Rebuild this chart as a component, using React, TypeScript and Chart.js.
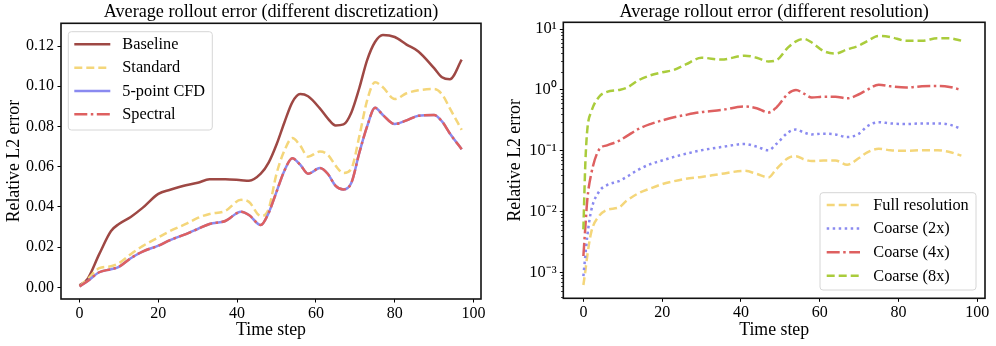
import React, { useEffect, useRef } from 'react';
import { Chart, registerables } from 'chart.js';

Chart.register(...registerables);

const FONT = '"Liberation Serif", "Times New Roman", Times, serif';

// ---------- Left chart: different discretization ----------
const stepsLeft = [0, 2, 5, 8, 10, 13, 16, 20, 23, 27, 30, 33, 37, 41, 43, 46, 48, 50, 52, 54, 56, 58, 61, 63, 65, 67, 69, 71, 73, 75, 77, 80, 83, 86, 90, 92, 94, 97];
const baseline = [0.001, 0.004, 0.0165, 0.028, 0.0315, 0.035, 0.0395, 0.0465, 0.0485, 0.0508, 0.052, 0.0537, 0.0538, 0.0533, 0.053, 0.0565, 0.062, 0.071, 0.082, 0.092, 0.0961, 0.095, 0.089, 0.084, 0.0805, 0.081, 0.087, 0.099, 0.113, 0.122, 0.1255, 0.1245, 0.1207, 0.1173, 0.109, 0.1045, 0.1035, 0.1132];
const standard = [0.0005, 0.004, 0.0095, 0.0105, 0.012, 0.0165, 0.0205, 0.0248, 0.028, 0.0315, 0.0345, 0.0365, 0.038, 0.0435, 0.0425, 0.0355, 0.039, 0.0565, 0.068, 0.0742, 0.0705, 0.065, 0.0675, 0.066, 0.0605, 0.0568, 0.059, 0.075, 0.093, 0.102, 0.0995, 0.0936, 0.0965, 0.098, 0.0986, 0.096, 0.089, 0.0783];
const cfd5 = [0.0005, 0.003, 0.0075, 0.009, 0.0102, 0.0145, 0.0178, 0.0207, 0.0235, 0.0265, 0.029, 0.0315, 0.033, 0.0376, 0.036, 0.031, 0.037, 0.0475, 0.058, 0.0642, 0.061, 0.0565, 0.0593, 0.0565, 0.0505, 0.0487, 0.052, 0.0668, 0.08, 0.0893, 0.0857, 0.0812, 0.083, 0.0853, 0.0857, 0.0825, 0.0765, 0.0687];
const spectral = [0.0005, 0.003, 0.0075, 0.009, 0.0102, 0.0145, 0.0178, 0.0207, 0.0235, 0.0265, 0.029, 0.0315, 0.033, 0.0376, 0.036, 0.031, 0.037, 0.0475, 0.058, 0.0642, 0.061, 0.0565, 0.0593, 0.0565, 0.0505, 0.0487, 0.052, 0.0668, 0.08, 0.0893, 0.0857, 0.0812, 0.083, 0.0853, 0.0857, 0.0825, 0.0765, 0.0687];
const leftNames = ['Baseline', 'Standard', '5-point CFD', 'Spectral'];
const leftYTicks = [0, 0.02, 0.04, 0.06, 0.08, 0.1, 0.12];
const xTicks = [0, 20, 40, 60, 80, 100];

// ---------- Right chart: different resolution ----------
const stepsRight = [0, 0.5, 1, 2, 4, 6, 9, 11, 14, 17, 20, 23, 26, 30, 35, 41, 44, 47, 49, 52, 54, 56, 58, 61, 64, 67, 70, 72, 75, 78, 82, 86, 90, 93, 96];
const fullRes = [0.00062, 0.00105, 0.0019, 0.0046, 0.0085, 0.0107, 0.0117, 0.0151, 0.02, 0.024, 0.0282, 0.0316, 0.0347, 0.0372, 0.0417, 0.0468, 0.0417, 0.0365, 0.05, 0.0759, 0.0813, 0.0724, 0.0676, 0.0692, 0.0692, 0.0589, 0.0759, 0.0933, 0.108, 0.102, 0.1, 0.102, 0.102, 0.0955, 0.0832];
const coarse2 = [0.00087, 0.0019, 0.004, 0.0105, 0.0214, 0.0272, 0.0316, 0.0372, 0.049, 0.0603, 0.0692, 0.0794, 0.0891, 0.102, 0.115, 0.129, 0.117, 0.102, 0.129, 0.2, 0.224, 0.2, 0.186, 0.191, 0.186, 0.168, 0.191, 0.251, 0.295, 0.282, 0.275, 0.282, 0.282, 0.269, 0.229];
const coarse4 = [0.00186, 0.0056, 0.0158, 0.042, 0.105, 0.123, 0.145, 0.174, 0.229, 0.275, 0.316, 0.355, 0.389, 0.432, 0.468, 0.537, 0.501, 0.427, 0.513, 0.871, 1.0, 0.871, 0.75, 0.776, 0.776, 0.728, 0.851, 1.0, 1.216, 1.148, 1.096, 1.148, 1.161, 1.122, 1.0];
const coarse8 = [0.0051, 0.063, 0.224, 0.437, 0.776, 0.933, 1.0, 1.084, 1.445, 1.738, 1.95, 2.14, 2.63, 3.39, 3.16, 3.67, 3.39, 2.95, 3.09, 5.01, 6.31, 6.92, 6.03, 4.37, 3.98, 4.64, 5.37, 6.31, 7.76, 7.41, 6.46, 6.46, 7.08, 7.08, 6.46];
const rightNames = ['Full resolution', 'Coarse (2x)', 'Coarse (4x)', 'Coarse (8x)'];
const rightYTicks = [0.001, 0.01, 0.1, 1, 10];
const rightYTickLabels = ['10⁻³', '10⁻²', '10⁻¹', '10⁰', '10¹'];

const leftTitle = 'Average rollout error (different discretization)';
const rightTitle = 'Average rollout error (different resolution)';
const xLabel = 'Time step';
const yLabel = 'Relative L2 error';

const C_BASE = 'rgb(158,72,68)';
const C_YEL = 'rgb(244,214,122)';
const C_BLUE = 'rgb(138,138,240)';
const C_RED = 'rgb(222,96,96)';
const C_GREEN = 'rgb(170,204,60)';

const DASH = [8, 4];
const DOT = [2.5, 3.5];
const DASHDOT = [13, 3.5, 2.5, 3.5];

function pts(xs: number[], ys: number[]) {
  return xs.map((x, i) => ({ x, y: ys[i] }));
}

function ds(label: string, xs: number[], ys: number[], color: string, dash: number[], order: number) {
  return {
    label,
    data: pts(xs, ys),
    borderColor: color,
    backgroundColor: color,
    borderWidth: 2.5,
    borderDash: dash,
    pointRadius: 0,
    fill: false,
    cubicInterpolationMode: 'monotone' as const,
    order,
  };
}

type LegendCfg = { corner: 'tl' | 'br'; dx: number; dy: number; w: number; h: number; first: number; gap: number; l0: number; l1: number; tx: number };

function decor(title: string, legend: LegendCfg, minor: boolean) {
  return {
    id: 'decor',
    afterDatasetsDraw(chart: any) {
      const { ctx, chartArea: a } = chart;
      ctx.save();
      // minor ticks for log axis
      if (minor) {
        const ys = chart.scales.y;
        ctx.strokeStyle = '#000';
        ctx.lineWidth = 0.8;
        ctx.setLineDash([]);
        for (let e = -5; e <= 2; e++) {
          for (let k = 2; k <= 9; k++) {
            const v = k * Math.pow(10, e);
            if (v < ys.min || v > ys.max) continue;
            const p = Math.round(ys.getPixelForValue(v)) + 0.5;
            ctx.beginPath();
            ctx.moveTo(a.left, p);
            ctx.lineTo(a.left - 2.2, p);
            ctx.stroke();
          }
        }
      }
      // frame
      ctx.strokeStyle = '#111';
      ctx.lineWidth = 1.6;
      ctx.setLineDash([]);
      ctx.strokeRect(a.left, a.top, a.right - a.left, a.bottom - a.top);
      // title
      ctx.fillStyle = '#000';
      ctx.font = `18.2px ${FONT}`;
      ctx.textAlign = 'center';
      ctx.textBaseline = 'middle';
      ctx.fillText(title, (a.left + a.right) / 2, 12.7);
      // legend
      const bx = legend.corner === 'tl' ? a.left + legend.dx : a.right - legend.dx - legend.w;
      const by = legend.corner === 'tl' ? a.top + legend.dy : a.bottom - legend.dy - legend.h;
      ctx.beginPath();
      const r = 3;
      ctx.moveTo(bx + r, by);
      ctx.lineTo(bx + legend.w - r, by);
      ctx.quadraticCurveTo(bx + legend.w, by, bx + legend.w, by + r);
      ctx.lineTo(bx + legend.w, by + legend.h - r);
      ctx.quadraticCurveTo(bx + legend.w, by + legend.h, bx + legend.w - r, by + legend.h);
      ctx.lineTo(bx + r, by + legend.h);
      ctx.quadraticCurveTo(bx, by + legend.h, bx, by + legend.h - r);
      ctx.lineTo(bx, by + r);
      ctx.quadraticCurveTo(bx, by, bx + r, by);
      ctx.closePath();
      ctx.fillStyle = 'rgba(255,255,255,0.85)';
      ctx.fill();
      ctx.strokeStyle = '#d6d6d6';
      ctx.lineWidth = 1;
      ctx.stroke();
      ctx.font = `16.3px ${FONT}`;
      ctx.textAlign = 'left';
      ctx.textBaseline = 'middle';
      chart.data.datasets.forEach((d: any, i: number) => {
        const y = by + legend.first + i * legend.gap;
        ctx.strokeStyle = d.borderColor;
        ctx.lineWidth = d.borderWidth;
        ctx.setLineDash(d.borderDash || []);
        ctx.beginPath();
        ctx.moveTo(bx + legend.l0, y);
        ctx.lineTo(bx + legend.l1, y);
        ctx.stroke();
        ctx.setLineDash([]);
        ctx.fillStyle = '#000';
        ctx.fillText(d.label, bx + legend.tx, y + 0.5);
      });
      ctx.restore();
    },
  };
}

const tickFont = { family: FONT, size: 16 };
const labelFont = { family: FONT, size: 17.8 };

function xScale(min: number, max: number, h: number) {
  return {
    type: 'linear' as const,
    min,
    max,
    afterBuildTicks: (s: any) => {
      s.ticks = xTicks.map((v) => ({ value: v }));
    },
    afterFit: (s: any) => {
      s.height = h;
    },
    ticks: { font: tickFont, color: '#000', padding: 1.5, maxRotation: 0, autoSkip: false, callback: (v: any) => String(v) },
    grid: { drawOnChartArea: false, drawTicks: true, tickLength: 3.5, tickColor: '#000', tickWidth: 1 },
    border: { display: false },
    title: { display: true, text: xLabel, font: labelFont, color: '#000', padding: { top: 0, bottom: 4.5 } },
  };
}

function LeftChart() {
  const ref = useRef<HTMLCanvasElement>(null);
  useEffect(() => {
    const chart = new Chart(ref.current!, {
      type: 'line',
      data: {
        datasets: [
          ds(leftNames[0], stepsLeft, baseline, C_BASE, [], 3),
          ds(leftNames[1], stepsLeft, standard, C_YEL, DASH, 2),
          ds(leftNames[2], stepsLeft, cfd5, C_BLUE, [], 1),
          ds(leftNames[3], stepsLeft, spectral, C_RED, DASHDOT, 0),
        ],
      },
      options: {
        responsive: false,
        animation: false,
        layout: { padding: { top: 23.3, right: 19, left: 0, bottom: 0 } },
        plugins: { legend: { display: false }, tooltip: { enabled: false }, title: { display: false } },
        scales: {
          x: xScale(-4.7, 101.9, 47),
          y: {
            type: 'linear',
            min: -0.0058,
            max: 0.1313,
            afterBuildTicks: (s: any) => {
              s.ticks = leftYTicks.map((v) => ({ value: v }));
            },
            afterFit: (s: any) => {
              s.width = 61;
            },
            ticks: { font: tickFont, color: '#000', padding: 3.5, autoSkip: false, callback: (v: any) => Number(v).toFixed(2) },
            grid: { drawOnChartArea: false, drawTicks: true, tickLength: 3.5, tickColor: '#000', tickWidth: 1 },
            border: { display: false },
            title: { display: true, text: yLabel, font: labelFont, color: '#000', padding: { top: 3.5, bottom: 0 } },
          },
        },
      },
      plugins: [decor(leftTitle, { corner: 'tl', dx: 7.3, dy: 8.4, w: 144, h: 98.3, first: 12.6, gap: 23.35, l0: 6, l1: 42, tx: 54 }, false)],
    } as any);
    return () => chart.destroy();
  }, []);
  return <canvas ref={ref} width={500} height={346} style={{ width: 500, height: 346, display: 'block' }} />;
}

function RightChart() {
  const ref = useRef<HTMLCanvasElement>(null);
  useEffect(() => {
    const chart = new Chart(ref.current!, {
      type: 'line',
      data: {
        datasets: [
          ds(rightNames[0], stepsRight, fullRes, C_YEL, DASH, 3),
          ds(rightNames[1], stepsRight, coarse2, C_BLUE, DOT, 2),
          ds(rightNames[2], stepsRight, coarse4, C_RED, DASHDOT, 1),
          ds(rightNames[3], stepsRight, coarse8, C_GREEN, DASH, 0),
        ],
      },
      options: {
        responsive: false,
        animation: false,
        layout: { padding: { top: 22.3, right: 11, left: 0, bottom: 0 } },
        plugins: { legend: { display: false }, tooltip: { enabled: false }, title: { display: false } },
        scales: {
          x: xScale(-5.1, 102, 47.7),
          y: {
            type: 'logarithmic',
            min: 0.000375,
            max: 12.97,
            afterBuildTicks: (s: any) => {
              s.ticks = rightYTicks.map((v) => ({ value: v }));
            },
            afterFit: (s: any) => {
              s.width = 63.3;
            },
            ticks: {
              font: { family: FONT, size: 16.5 },
              color: '#000',
              padding: 3,
              autoSkip: false,
              callback: (v: any) => {
                const i = rightYTicks.indexOf(Number(v));
                return i >= 0 ? rightYTickLabels[i] : '';
              },
            },
            grid: { drawOnChartArea: false, drawTicks: true, tickLength: 3.5, tickColor: '#000', tickWidth: 1 },
            border: { display: false },
            title: { display: true, text: yLabel, font: labelFont, color: '#000', padding: { top: 4.8, bottom: 0 } },
          },
        },
      },
      plugins: [decor(rightTitle, { corner: 'br', dx: 9, dy: 8.3, w: 156, h: 97.3, first: 12.3, gap: 23.6, l0: 6.7, l1: 40, tx: 53.3 }, true)],
    } as any);
    return () => chart.destroy();
  }, []);
  return <canvas ref={ref} width={496} height={346} style={{ width: 496, height: 346, display: 'block' }} />;
}

export default function App() {
  return (
    <div style={{ position: 'absolute', left: 0, top: 0, width: 996, height: 346, background: '#fff' }}>
      <div style={{ position: 'absolute', left: 0, top: 0, width: 500, height: 346 }}>
        <LeftChart />
      </div>
      <div style={{ position: 'absolute', left: 500, top: 0, width: 496, height: 346 }}>
        <RightChart />
      </div>
    </div>
  );
}
